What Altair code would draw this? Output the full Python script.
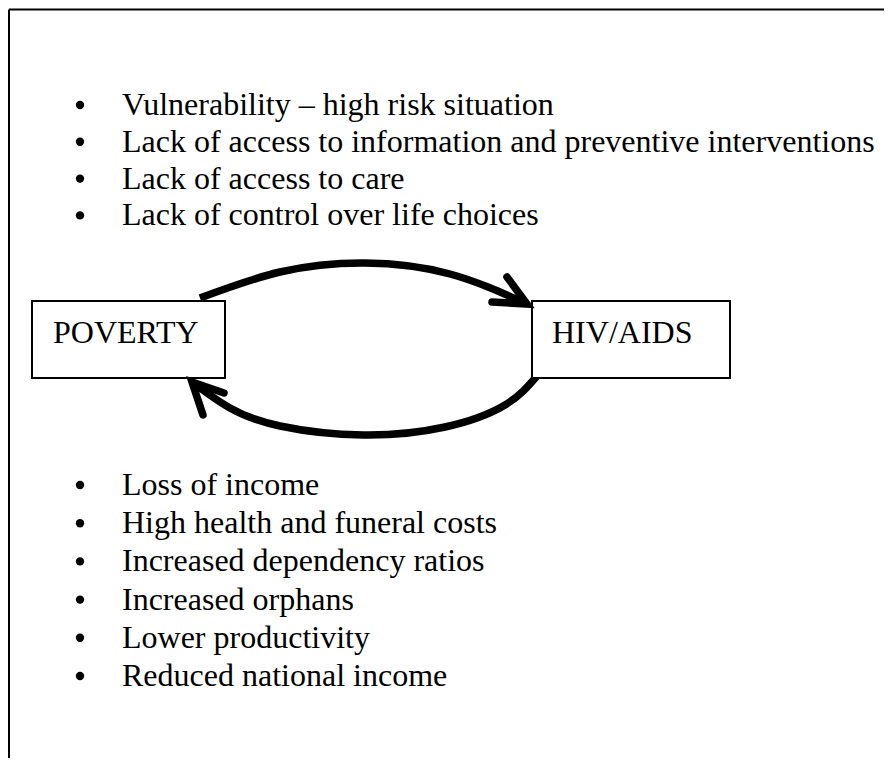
import altair as alt
import pandas as pd

# ---- content ----
top_items = [
    "Vulnerability – high risk situation",
    "Lack of access to information and preventive interventions",
    "Lack of access to care",
    "Lack of control over life choices",
]
bottom_items = [
    "Loss of income",
    "High health and funeral costs",
    "Increased dependency ratios",
    "Increased orphans",
    "Lower productivity",
    "Reduced national income",
]
box_labels = ["POVERTY", "HIV/AIDS"]

# ---- layout (page pixel coordinates) ----
W, H = 876, 750
OFF = 8
FONT = "Liberation Serif"
FS = 32
TEXT_X, BULLET_X = 122, 80
TOP_BASE0, TOP_STEP = 115, 36.8
BOT_BASE0, BOT_STEP = 495, 38.2

box_x1 = [32, 532]
box_x2 = [225, 730]
box_y1 = [301, 301]
box_y2 = [378, 378]
box_tx = [53, 552]
box_ty = [343, 343]

top_arc_x = [200, 280, 365, 450, 527]
top_arc_y = [298, 272, 263, 274, 304]
bot_arc_x = [537, 505, 445, 363, 280, 230, 192]
bot_arc_y = [376, 405, 427, 435, 426, 408, 382]
head_tip_x = [527, 192]
head_tip_y = [304, 382]
head_a_x = [507, 203]
head_a_y = [277, 415]
head_b_x = [492, 224]
head_b_y = [302, 393]

xs = alt.Scale(domain=[OFF, OFF + W])
ys = alt.Scale(domain=[OFF, OFF + H], reverse=True)
X = lambda f: alt.X(f, type="quantitative", scale=xs, axis=None)
Y = lambda f: alt.Y(f, type="quantitative", scale=ys, axis=None)

rows = []
for i, t in enumerate(top_items):
    rows.append({"text": t, "x": TEXT_X, "y": TOP_BASE0 + i * TOP_STEP})
for i, t in enumerate(bottom_items):
    rows.append({"text": t, "x": TEXT_X, "y": BOT_BASE0 + i * BOT_STEP})
items = pd.DataFrame(rows)
items["bx"] = BULLET_X
items["by"] = items["y"] - 10

boxes = pd.DataFrame({"x1": box_x1, "x2": box_x2, "y1": box_y1, "y2": box_y2,
                      "label": box_labels, "tx": box_tx, "ty": box_ty})

arc_rows = []
for k, (xx, yy) in enumerate(zip(top_arc_x, top_arc_y)):
    arc_rows.append({"seg": "top", "o": k, "x": xx, "y": yy})
for k, (xx, yy) in enumerate(zip(bot_arc_x, bot_arc_y)):
    arc_rows.append({"seg": "bot", "o": k, "x": xx, "y": yy})
arcs = pd.DataFrame(arc_rows)

head_rows = []
for j in range(2):
    head_rows += [
        {"seg": f"a{j}", "o": 0, "x": head_a_x[j], "y": head_a_y[j]},
        {"seg": f"a{j}", "o": 1, "x": head_tip_x[j], "y": head_tip_y[j]},
        {"seg": f"a{j}", "o": 2, "x": head_b_x[j], "y": head_b_y[j]},
    ]
heads = pd.DataFrame(head_rows)

# left and top edges of the outer frame (right and bottom lie outside the picture)
border = pd.DataFrame({"seg": ["v", "v", "h", "h"], "o": [0, 1, 0, 1],
                       "x": [9, 9, 9, OFF + W], "y": [OFF + H, 9.5, 9.5, 9.5]})

border_layer = alt.Chart(border).mark_line(color="black", strokeWidth=2, clip=True).encode(
    x=X("x"), y=Y("y"), detail="seg:N", order="o:Q")

arc_layer = alt.Chart(arcs).mark_line(color="black", strokeWidth=7.5, interpolate="natural",
                                      strokeCap="butt").encode(
    x=X("x"), y=Y("y"), detail="seg:N", order="o:Q")

head_layer = alt.Chart(heads).mark_line(color="black", strokeWidth=7.5, strokeCap="round",
                                        strokeJoin="miter").encode(
    x=X("x"), y=Y("y"), detail="seg:N", order="o:Q")

box_layer = alt.Chart(boxes).mark_rect(fill="white", stroke="black", strokeWidth=2).encode(
    x=X("x1"), x2="x2", y=Y("y1"), y2="y2")

box_text = alt.Chart(boxes).mark_text(font=FONT, fontSize=FS, align="left",
                                      baseline="alphabetic", color="black").encode(
    x=X("tx"), y=Y("ty"), text="label:N")

item_text = alt.Chart(items).mark_text(font=FONT, fontSize=FS, align="left",
                                       baseline="alphabetic", color="black").encode(
    x=X("x"), y=Y("y"), text="text:N")

bullets = alt.Chart(items).mark_circle(color="black", opacity=1, size=70).encode(
    x=X("bx"), y=Y("by"))

chart = alt.layer(border_layer, arc_layer, box_layer, head_layer, box_text, item_text, bullets).properties(
    width=W, height=H, padding=0, autosize=alt.AutoSizeParams(type="none"),
    background="white"
).configure_view(stroke=None)

chart.save("out.html", embed_options={"renderer": "svg", "actions": False})
